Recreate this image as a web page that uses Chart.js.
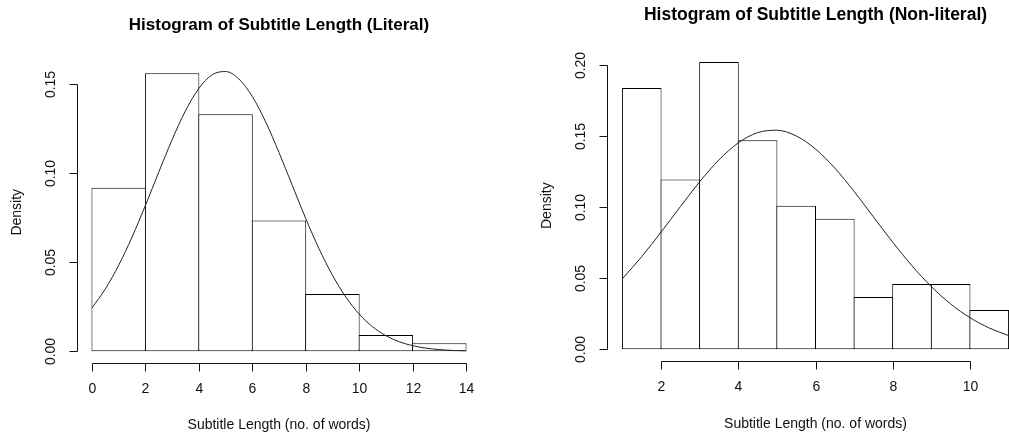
<!DOCTYPE html>
<html>
<head>
<meta charset="utf-8">
<script src="https://cdn.jsdelivr.net/npm/chart.js@4.4.0/dist/chart.umd.min.js"></script>
<style>
  html, body { margin: 0; padding: 0; background: #fff; overflow: hidden; width: 1009px; height: 435px; }
  #litChart { position: absolute; left: 0; top: 0; }
  #nonChart { position: absolute; left: 505px; top: 0; }
</style>
</head>
<body>
<canvas id="litChart" width="505" height="435"></canvas>
<canvas id="nonChart" width="530" height="435"></canvas>
<script>
// Literal subtitles: bins of 2 words
const litBinMids = [1, 3, 5, 7, 9, 11, 13];
const litDensity = [0.0917, 0.156, 0.1330, 0.0734, 0.0321, 0.0092, 0.0046];
const litCurveX = [0, 0.5, 1, 1.5, 2, 2.5, 3, 3.5, 4, 4.5, 5, 5.5, 6, 6.5, 7, 7.5, 8, 8.5, 9, 9.5, 10, 10.5, 11, 11.5, 12, 12.5, 13, 13.5, 14];
const litCurveY = [0.0244, 0.0350, 0.0483, 0.0641, 0.0818, 0.1005, 0.1187, 0.1349, 0.1474, 0.1551, 0.1569, 0.1527, 0.1429, 0.1287, 0.1115, 0.0930, 0.0745, 0.0575, 0.0427, 0.0305, 0.0209, 0.0138, 0.0088, 0.0054, 0.0032, 0.0018, 0.0010, 0.0005, 0.0003];
const litTicksX = [0, 2, 4, 6, 8, 10, 12, 14];
const litTicksY = [0, 0.05, 0.10, 0.15];

// Non-literal subtitles: bins of 1 word
const nonBinMids = [1.5, 2.5, 3.5, 4.5, 5.5, 6.5, 7.5, 8.5, 9.5, 10.5];
const nonDensity = [0.1835, 0.1193, 0.2018, 0.1468, 0.1009, 0.0917, 0.0367, 0.0459, 0.0459, 0.0275];
const nonCurveX = [1, 1.5, 2, 2.5, 3, 3.5, 4, 4.5, 5, 5.5, 6, 6.5, 7, 7.5, 8, 8.5, 9, 9.5, 10, 10.5, 11];
const nonCurveY = [0.0496, 0.0651, 0.0823, 0.1002, 0.1177, 0.1331, 0.1450, 0.1522, 0.1539, 0.1499, 0.1407, 0.1273, 0.1109, 0.0930, 0.0752, 0.0586, 0.0440, 0.0318, 0.0222, 0.0149, 0.0096];
const nonTicksX = [2, 4, 6, 8, 10];
const nonTicksY = [0, 0.05, 0.10, 0.15, 0.20];

const FONT = '"Liberation Sans", Arial, sans-serif';

// R-style axes, titles and labels drawn from the chart scales
const rAxes = {
  id: 'rAxes',
  afterDraw(chart, args, o) {
    const { ctx, chartArea: a, scales: { x, y } } = chart;
    ctx.save();
    ctx.strokeStyle = '#111';
    ctx.fillStyle = '#111';
    ctx.lineWidth = 1;

    // x axis
    const xl = Math.round(a.bottom) + 0.5;
    const px = o.ticksX.map(v => Math.round(x.getPixelForValue(v)) + 0.5);
    ctx.beginPath();
    ctx.moveTo(px[0], xl);
    ctx.lineTo(px[px.length - 1], xl);
    px.forEach(p => { ctx.moveTo(p, xl); ctx.lineTo(p, xl + 8); });
    ctx.stroke();
    ctx.font = '14px ' + FONT;
    ctx.textAlign = 'center';
    ctx.textBaseline = 'middle';
    o.ticksX.forEach((v, i) => ctx.fillText(String(v), px[i], xl + 26));

    // y axis
    const yl = Math.round(a.left) + 0.5;
    const py = o.ticksY.map(v => Math.round(y.getPixelForValue(v)) + 0.5);
    ctx.beginPath();
    ctx.moveTo(yl, py[0]);
    ctx.lineTo(yl, py[py.length - 1]);
    py.forEach(p => { ctx.moveTo(yl, p); ctx.lineTo(yl - 8, p); });
    ctx.stroke();
    o.ticksY.forEach((v, i) => {
      ctx.save();
      ctx.translate(yl - 26, py[i]);
      ctx.rotate(-Math.PI / 2);
      ctx.fillText(v.toFixed(2), 0, 0);
      ctx.restore();
    });

    // axis titles
    ctx.font = '14px ' + FONT;
    ctx.fillText(o.xLabel, (a.left + a.right) / 2, a.bottom + 63);
    ctx.save();
    ctx.translate(a.left - 60, (a.top + a.bottom) / 2);
    ctx.rotate(-Math.PI / 2);
    ctx.fillText(o.yLabel, 0, 0);
    ctx.restore();

    // main title
    ctx.fillStyle = '#000';
    ctx.font = 'bold ' + o.titleSize + 'px ' + FONT;
    ctx.fillText(o.title, (a.left + a.right) / 2, o.titleY);
    ctx.restore();
  }
};

function makeHist(id, mids, dens, cx, cy, ticksX, ticksY, binW, opts) {
  const yMax = Math.max(...dens);
  const xMin = mids[0] - binW / 2;
  const xMax = mids[mids.length - 1] + binW / 2;
  const xPad = (xMax - xMin) * 0.04;
  return new Chart(document.getElementById(id), {
    type: 'bar',
    data: {
      datasets: [
        {
          type: 'line',
          data: cx.map((v, i) => ({ x: v, y: cy[i] })),
          borderColor: '#222',
          borderWidth: 1,
          pointRadius: 0,
          cubicInterpolationMode: 'monotone',
          fill: false,
          order: 0
        },
        {
          data: mids.map((v, i) => ({ x: v, y: dens[i] })),
          backgroundColor: '#fff',
          borderColor: '#000',
          borderWidth: 1,
          borderSkipped: false,
          barPercentage: opts.barPct,
          categoryPercentage: 1,
          order: 1
        }
      ]
    },
    options: {
      responsive: false,
      animation: false,
      layout: { padding: opts.padding },
      plugins: {
        legend: { display: false },
        tooltip: { enabled: false },
        rAxes: {
          title: opts.title,
          titleY: opts.titleY,
          titleSize: opts.titleSize,
          xLabel: 'Subtitle Length (no. of words)',
          yLabel: 'Density',
          ticksX: ticksX,
          ticksY: ticksY
        }
      },
      scales: {
        x: { type: 'linear', display: false, offset: false, min: xMin - xPad, max: xMax + xPad },
        y: { type: 'linear', display: false, min: -0.04 * yMax, max: 1.04 * yMax }
      }
    },
    plugins: [rAxes]
  });
}

makeHist('litChart', litBinMids, litDensity, litCurveX, litCurveY, litTicksX, litTicksY, 2, {
  title: 'Histogram of Subtitle Length (Literal)',
  titleY: 25,
  titleSize: 17,
  barPct: 1 + 1 / 53.5,
  padding: { left: 77, right: 24, top: 62, bottom: 72.5 }
});

makeHist('nonChart', nonBinMids, nonDensity, nonCurveX, nonCurveY, nonTicksX, nonTicksY, 1, {
  title: 'Histogram of Subtitle Length (Non-literal)',
  titleY: 15,
  titleSize: 17.5,
  barPct: 1 + 1 / 38.6,
  padding: { left: 102, right: 11, top: 50.6, bottom: 74.3 }
});
</script>
</body>
</html>
